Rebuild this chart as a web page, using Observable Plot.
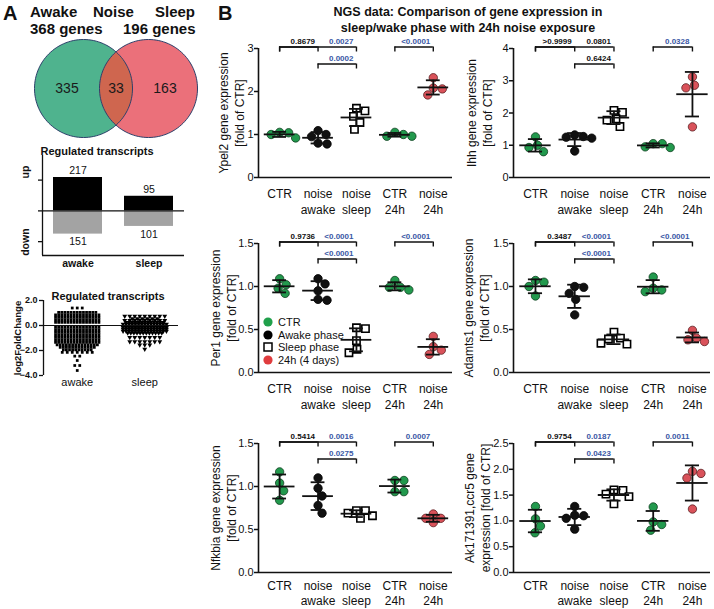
<!DOCTYPE html>
<html><head><meta charset="utf-8">
<script src="https://cdn.jsdelivr.net/npm/d3@7"></script>
<script src="https://cdn.jsdelivr.net/npm/@observablehq/plot@0.6"></script>
<style>
body{margin:0;background:#fff;font-family:"Liberation Sans",Arial,Helvetica,sans-serif;}
#root{position:relative;width:714px;height:609px;overflow:hidden;background:#fff;}
#root svg{position:absolute;}
.t{position:absolute;white-space:nowrap;line-height:1;color:#111;}
</style></head><body><div id="root"></div>
<script>
// ---------- Panel A data ----------
const vennHeader = ["Awake", "Noise", "Sleep"];
const vennTotals = ["368 genes", "196 genes"];
const vennCounts = [335, 33, 163];

const regGroups = ["awake", "sleep"];
const regUp = [217, 95];
const regDown = [151, 101];
const regDirections = ["up", "down"];

const fcAwakeLevels = [1.4, 1.05, 0.85, 0.65, 0.45, 0.25, -0.15, -0.35, -0.55, -0.75, -0.95, -1.15, -1.35, -1.55, -1.75, -1.95, -2.15, -2.45, -2.8, -3.2, -3.6];
const fcAwakeCounts = [3, 13, 15, 15, 15, 15, 15, 15, 15, 15, 15, 15, 15, 14, 12, 10, 7, 2, 1, 2, 1];
const fcSleepLevels = [0.75, 0.55, 0.4, 0.25, 0.1, -0.15, -0.3, -0.45, -0.6, -0.95, -1.3, -1.55, -1.9];
const fcSleepCounts = [9, 6, 9, 13, 15, 15, 15, 15, 12, 7, 7, 3, 1];

// ---------- Panel B data ----------
const categories = ["CTR", "noise\nawake", "noise\nsleep", "CTR\n24h", "noise\n24h"];
const groupKinds = ["ctr", "awake", "sleep", "ctr", "h24"];
const legendLabels = ["CTR", "Awake phase", "Sleep phase", "24h (4 days)"];
const comparisons = [[0, 1, 0], [0, 2, 0], [1, 2, 1], [3, 4, 0]];

const ypel2 = [[1.05, 1.04, 1.0, 0.92], [1.09, 1.0, 0.95, 0.8, 0.78], [1.61, 1.55, 1.42, 1.28, 1.12], [1.05, 1.0, 0.96, 0.96], [2.32, 2.08, 2.06, 1.92]];
const ypel2P = ["0.8679", "0.0027", "0.0002", "<0.0001"];
const ihh = [[1.26, 1.0, 0.93, 0.8], [1.32, 1.27, 1.25, 1.22, 0.82], [2.08, 2.02, 1.82, 1.78, 1.58], [1.05, 1.05, 0.95, 0.93], [3.12, 2.86, 2.78, 1.57]];
const ihhP = [">0.9999", "0.0801", "0.6424", "0.0328"];
const per1 = [[1.09, 1.02, 0.98, 0.92], [1.09, 1.03, 0.95, 0.85, 0.84], [0.52, 0.51, 0.37, 0.27, 0.23], [1.07, 0.99, 0.99, 0.96], [0.42, 0.3, 0.26, 0.21]];
const per1P = ["0.9736", "<0.0001", "<0.0001", "<0.0001"];
const adamts1 = [[1.07, 1.05, 1.0, 0.89], [1.0, 0.99, 0.92, 0.85, 0.67], [0.47, 0.4, 0.39, 0.34, 0.33], [1.11, 0.98, 0.96, 0.94], [0.49, 0.4, 0.38, 0.36]];
const adamts1P = ["0.3487", "<0.0001", "<0.0001", "<0.0001"];
const nfkbia = [[1.17, 1.04, 0.95, 0.84], [1.1, 0.98, 0.89, 0.78, 0.69], [0.72, 0.72, 0.69, 0.66, 0.63], [1.07, 1.07, 0.94, 0.94], [0.68, 0.63, 0.63, 0.58]];
const nfkbiaP = ["0.5414", "0.0016", "0.0275", "0.0007"];
const ak171391 = [[1.28, 1.04, 0.9, 0.77], [1.28, 1.11, 1.1, 1.05, 0.84], [1.6, 1.59, 1.52, 1.47, 1.33], [1.27, 0.98, 0.93, 0.82], [1.96, 1.92, 1.83, 1.23]];
const ak171391P = ["0.9754", "0.0187", "0.0423", "0.0011"];

// ---------- styling ----------
const FONT = '"Liberation Sans", Arial, Helvetica, sans-serif';
const GREEN = "#22994d", GREEN_D = "#0f3f20";
const RED = "#d9525a", RED_D = "#5c1f22";
const BLUE = "#3a57a5";
const root = document.getElementById("root");
const baseStyle = {fontFamily: FONT, background: "transparent", color: "#111", overflow: "visible"};

function place(svg, left, top) {
  svg.style.left = left + "px";
  svg.style.top = top + "px";
  root.appendChild(svg);
}
function text(str, left, top, css) {
  const d = document.createElement("div");
  d.className = "t";
  d.textContent = str;
  d.style.left = left + "px";
  d.style.top = top + "px";
  Object.assign(d.style, css || {});
  root.appendChild(d);
  return d;
}

// ---------- Venn ----------
{
  const vW = 230, vH = 112, unit = 49, cx = 115.5, cy = 54;
  const dd = 32.5 / unit;
  const circ = c => d3.range(0, 361, 3).map(a => ({x: c + Math.cos(a * Math.PI / 180), y: Math.sin(a * Math.PI / 180)}));
  const a0 = Math.acos(dd);
  const lens = [
    ...d3.range(0, 41).map(k => { const t = a0 - 2 * a0 * k / 40; return {x: -dd + Math.cos(t), y: Math.sin(t)}; }),
    ...d3.range(0, 41).map(k => { const t = Math.PI + a0 - 2 * a0 * k / 40; return {x: dd + Math.cos(t), y: Math.sin(t)}; })
  ];
  const svg = Plot.plot({
    width: vW, height: vH, margin: 0,
    x: {domain: [-cx / unit, (vW - cx) / unit], axis: null},
    y: {domain: [-(vH - cy) / unit, cy / unit], axis: null},
    style: baseStyle,
    marks: [
      Plot.line(circ(-dd), {x: "x", y: "y", fill: "#4fb38e", stroke: "none"}),
      Plot.line(circ(dd), {x: "x", y: "y", fill: "#eb707a", stroke: "none"}),
      Plot.line(lens, {x: "x", y: "y", fill: "#cf664f", stroke: "none"}),
      Plot.line(circ(-dd), {x: "x", y: "y", stroke: "#2d416b", strokeWidth: 1}),
      Plot.line(circ(dd), {x: "x", y: "y", stroke: "#2d416b", strokeWidth: 1}),
      Plot.text(vennCounts, {x: (d, i) => [-1, 0, 1][i], y: () => 0, text: d => String(d), fontSize: 14, fill: "#1a1a1a"})
    ]
  });
  place(svg, 0, 34);
}

// ---------- Regulated transcripts bars ----------
{
  const data = regGroups.map((g, i) => ({i, g, up: regUp[i], down: regDown[i]}));
  const yDom = [-290, 360];
  const svg = Plot.plot({
    width: 200, height: 132, marginLeft: 42, marginRight: 16, marginTop: 15, marginBottom: 17,
    x: {domain: [-0.5, 1.5], axis: null},
    y: {domain: yDom, axis: null},
    style: baseStyle,
    marks: [
      Plot.rectY(data, {x1: d => d.i - 0.345, x2: d => d.i + 0.345, y1: () => 0, y2: "up", fill: "#000"}),
      Plot.rectY(data, {x1: d => d.i - 0.345, x2: d => d.i + 0.345, y1: () => 0, y2: d => -d.down, fill: "#a3a3a3"}),
      Plot.ruleY([0], {strokeWidth: 1.3}),
      Plot.ruleY([yDom[0]], {strokeWidth: 1.3}),
      Plot.ruleX([-0.5], {y1: () => yDom[0], y2: () => yDom[1], strokeWidth: 1.3}),
      Plot.axisY({ticks: [-200, 0, 200], tickFormat: () => "", tickSize: 4, strokeWidth: 1.3, label: null}),
      Plot.text(data, {x: "i", y: "up", text: d => String(d.up), dy: -7, fontSize: 10.5}),
      Plot.text(data, {x: "i", y: d => -d.down, text: d => String(d.down), dy: 8, fontSize: 10.5}),
      Plot.text(data, {x: "i", text: "g", frameAnchor: "bottom", dy: 4, lineAnchor: "top", fontSize: 10.5, fontWeight: "bold"}),
      Plot.text(regDirections, {y: (d, i) => (i === 0 ? yDom[1] : yDom[0]) * 0.7, text: d => d, frameAnchor: "left", dx: -17, rotate: -90, textAnchor: "middle", fontSize: 10.5, fontWeight: "bold"})
    ]
  });
  place(svg, 0, 140);
}

// ---------- log2FoldChange beeswarm ----------
{
  const pxX = 67.5;
  const pts = [];
  const addRows = (levels, counts, g) => levels.forEach((v, k) => {
    const n = counts[k], sp = n >= 10 ? 3.1 : 5;
    for (let i = 0; i < n; i++) pts.push({g, v, x: g + (i - (n - 1) / 2) * sp / pxX});
  });
  addRows(fcAwakeLevels, fcAwakeCounts, 0);
  addRows(fcSleepLevels, fcSleepCounts, 1);
  const svg = Plot.plot({
    width: 200, height: 110, marginLeft: 43, marginRight: 22, marginTop: 15, marginBottom: 20,
    x: {domain: [-0.5, 1.5], axis: null},
    y: {domain: [-4, 2], axis: null},
    style: baseStyle,
    marks: [
      Plot.dot(pts.filter(d => d.g === 0), {x: "x", y: "v", symbol: "square", r: 1.55, fill: "#000", stroke: "none"}),
      Plot.dot(pts.filter(d => d.g === 1), {x: "x", y: "v", symbol: "triangle", r: 1.8, rotate: 180, fill: "#000", stroke: "none"}),
      Plot.ruleY([0], {strokeWidth: 1.2}),
      Plot.ruleX([-0.5], {y1: () => -4, y2: () => 2, strokeWidth: 1.3}),
      Plot.axisY({ticks: [-4, -2, 0, 2], tickSize: 4, strokeWidth: 1.3, fontSize: 9, fontWeight: "bold", tickPadding: 2, label: null}),
      Plot.text(regGroups, {x: (d, i) => i, text: d => d, frameAnchor: "bottom", dy: 3, lineAnchor: "top", fontSize: 11}),
      Plot.text(["log2FoldChange"], {text: d => d, frameAnchor: "left", dx: -26, rotate: -90, textAnchor: "middle", fontSize: 9.5, fontWeight: "bold"})
    ]
  });
  place(svg, 0, 285);
}

// ---------- Panel B gene plots ----------
function dodge(vals, pxY, r) {
  const order = vals.map((v, i) => i).sort((a, b) => vals[b] - vals[a]);
  const placed = [], off = new Array(vals.length);
  for (const i of order) {
    const y = vals[i] * pxY;
    for (let k = 0; k < 400; k++) {
      const c = (k % 2 ? 1 : -1) * Math.ceil(k / 2) * 0.5;
      if (placed.every(p => (p.x - c) ** 2 + (p.y - y) ** 2 >= (2 * r) ** 2)) {
        off[i] = c; placed.push({x: c, y}); break;
      }
    }
  }
  return off;
}
const pval = s => parseFloat(s.replace(/[<>]/g, ""));

function genePlot(cfg) {
  const {label, values, p, ymax, ticks, fmt, col, row, labelDx} = cfg;
  const left = col === 0 ? 195 : 450;
  const xDomain = col === 0 ? [-0.55, 4.5] : [-0.56, 4.46];
  const frameW = col === 0 ? 194 : 197;
  const mL = 63, mT = 18, frameH = 129, mB = row === 2 ? 37 : 42;
  const top = [30, 225, 425][row];
  const pxY = frameH / ymax, pxX = frameW / (xDomain[1] - xDomain[0]);
  const pts = [], stats = [];
  values.forEach((vals, g) => {
    const offs = dodge(vals, pxY, 4.3);
    vals.forEach((v, i) => pts.push({g, v, x: g + offs[i] / pxX, kind: groupKinds[g]}));
    const m = d3.mean(vals), s = d3.deviation(vals);
    stats.push({g, m, lo: m - s, hi: m + s});
  });
  const yTop = ymax + 1.5 / pxY, step = 17 / pxY, tl = 5 / pxY;
  const br = comparisons.map(([a, b, lev], k) => ({a, b, y: yTop - lev * step, p: p[k], sig: pval(p[k]) < 0.05}));
  const svg = Plot.plot({
    width: mL + frameW + 4, height: mT + frameH + mB,
    marginLeft: mL, marginRight: 4, marginTop: mT, marginBottom: mB,
    x: {domain: xDomain, axis: null},
    y: {domain: [0, ymax], axis: null},
    style: baseStyle,
    marks: [
      Plot.dot(pts.filter(d => d.kind === "ctr"), {x: "x", y: "v", r: 4.2, fill: GREEN, stroke: GREEN_D, strokeWidth: 0.8}),
      Plot.dot(pts.filter(d => d.kind === "awake"), {x: "x", y: "v", r: 4.2, fill: "#111", stroke: "#000", strokeWidth: 0.8}),
      Plot.dot(pts.filter(d => d.kind === "h24"), {x: "x", y: "v", r: 4.2, fill: RED, stroke: RED_D, strokeWidth: 0.8}),
      Plot.dot(pts.filter(d => d.kind === "sleep"), {x: "x", y: "v", symbol: "square", r: 4.1, fill: "white", stroke: "#000", strokeWidth: 1.6}),
      Plot.ruleY(stats, {x1: d => d.g - 0.4, x2: d => d.g + 0.4, y: "m", strokeWidth: 1.8}),
      Plot.ruleX(stats, {x: "g", y1: "lo", y2: "hi", strokeWidth: 1.8}),
      Plot.ruleY(stats, {x1: d => d.g - 0.18, x2: d => d.g + 0.18, y: "lo", strokeWidth: 1.8}),
      Plot.ruleY(stats, {x1: d => d.g - 0.18, x2: d => d.g + 0.18, y: "hi", strokeWidth: 1.8}),
      Plot.ruleY([0], {strokeWidth: 1.6}),
      Plot.ruleX([xDomain[0]], {y1: () => 0, y2: () => ymax, strokeWidth: 1.6}),
      Plot.axisY({ticks, tickFormat: d3.format(fmt), tickSize: 4, strokeWidth: 1.5, fontSize: 11, tickPadding: 1, label: null}),
      Plot.ruleY(br, {x1: "a", x2: "b", y: "y", strokeWidth: 1.4}),
      Plot.ruleX(br, {x: "a", y1: "y", y2: d => d.y - tl, strokeWidth: 1.4}),
      Plot.ruleX(br, {x: "b", y1: "y", y2: d => d.y - tl, strokeWidth: 1.4}),
      Plot.text(br.filter(d => !d.sig), {x: "b", y: "y", text: "p", dx: -3, dy: -3, textAnchor: "end", lineAnchor: "bottom", fontSize: 8, fontWeight: "bold", fill: "#111"}),
      Plot.text(br.filter(d => d.sig), {x: "b", y: "y", text: "p", dx: -3, dy: -3, textAnchor: "end", lineAnchor: "bottom", fontSize: 8, fontWeight: "bold", fill: BLUE}),
      Plot.text(categories, {x: (d, i) => i, text: d => d, frameAnchor: "bottom", dy: row === 2 ? 7 : 9, lineAnchor: "top", lineHeight: row === 2 ? 1.25 : 1.33, fontSize: 12}),
      Plot.text([label], {text: d => d, frameAnchor: "left", dx: labelDx, rotate: -90, lineHeight: 1.35, fontSize: 12, textAnchor: "middle", lineAnchor: "middle"})
    ]
  });
  place(svg, left, top);
}

const genePanels = [
  {label: "Ypel2 gene expression\n[fold of CTR]", values: ypel2, p: ypel2P, ymax: 3, ticks: [0, 1, 2, 3], fmt: "d", col: 0, row: 0, labelDx: -28},
  {label: "Ihh gene expression\n[fold of CTR]", values: ihh, p: ihhP, ymax: 4, ticks: [0, 1, 2, 3, 4], fmt: "d", col: 1, row: 0, labelDx: -35},
  {label: "Per1 gene expression\n[fold of CTR]", values: per1, p: per1P, ymax: 1.5, ticks: [0, 0.5, 1, 1.5], fmt: ".1f", col: 0, row: 1, labelDx: -36},
  {label: "Adamts1 gene expression\n[fold of CTR]", values: adamts1, p: adamts1P, ymax: 1.5, ticks: [0, 0.5, 1, 1.5], fmt: ".1f", col: 1, row: 1, labelDx: -38},
  {label: "Nfkbia gene expression\n[fold of CTR]", values: nfkbia, p: nfkbiaP, ymax: 1.5, ticks: [0, 0.5, 1, 1.5], fmt: ".1f", col: 0, row: 2, labelDx: -36},
  {label: "Ak171391,ccr5 gene\nexpression [fold of CTR]", values: ak171391, p: ak171391P, ymax: 2.5, ticks: [0, 0.5, 1, 1.5, 2, 2.5], fmt: ".1f", col: 1, row: 2, labelDx: -37}
];
genePanels.forEach(genePlot);

// ---------- texts ----------
text("A", 3, 3, {fontSize: "20px", fontWeight: "bold"});
text(vennHeader[0], 30, 4, {fontSize: "15px", fontWeight: "bold"});
text(vennHeader[1], 93, 4, {fontSize: "15px", fontWeight: "bold"});
text(vennHeader[2], 155, 4, {fontSize: "15px", fontWeight: "bold"});
text(vennTotals[0], 30, 21, {fontSize: "15px", fontWeight: "bold"});
text(vennTotals[1], 123, 21, {fontSize: "15px", fontWeight: "bold"});
text("Regulated transcripts", 37, 146, {fontSize: "11px", fontWeight: "bold", width: "120px", textAlign: "center"});
text("Regulated transcripts", 48, 291, {fontSize: "11px", fontWeight: "bold", width: "120px", textAlign: "center"});
text("B", 218, 3, {fontSize: "20px", fontWeight: "bold"});
text("NGS data: Comparison of gene expression in\nsleep/wake phase with 24h noise exposure", 318, 4,
  {fontSize: "12.5px", fontWeight: "bold", width: "300px", textAlign: "center", whiteSpace: "pre", lineHeight: "1.3"});

// legend
{
  const lg = document.createElement("div");
  lg.style.position = "absolute"; lg.style.left = "262px"; lg.style.top = "316px";
  const sym = [
    `<circle cx="6" cy="6" r="4.6" fill="#20a04b"/>`,
    `<circle cx="6" cy="6" r="4.6" fill="#000"/>`,
    `<rect x="2" y="2" width="8" height="8" fill="#fff" stroke="#000" stroke-width="1.5"/>`,
    `<circle cx="6" cy="6" r="4.6" fill="#e03c3e"/>`
  ];
  lg.innerHTML = legendLabels.map((l, i) =>
    `<div style="display:flex;align-items:center;height:12.6px;font-size:11px;color:#111;white-space:nowrap"><svg width="12" height="12" style="position:static;margin-right:4px">${sym[i]}</svg>${l}</div>`).join("");
  root.appendChild(lg);
}
</script></body></html>
